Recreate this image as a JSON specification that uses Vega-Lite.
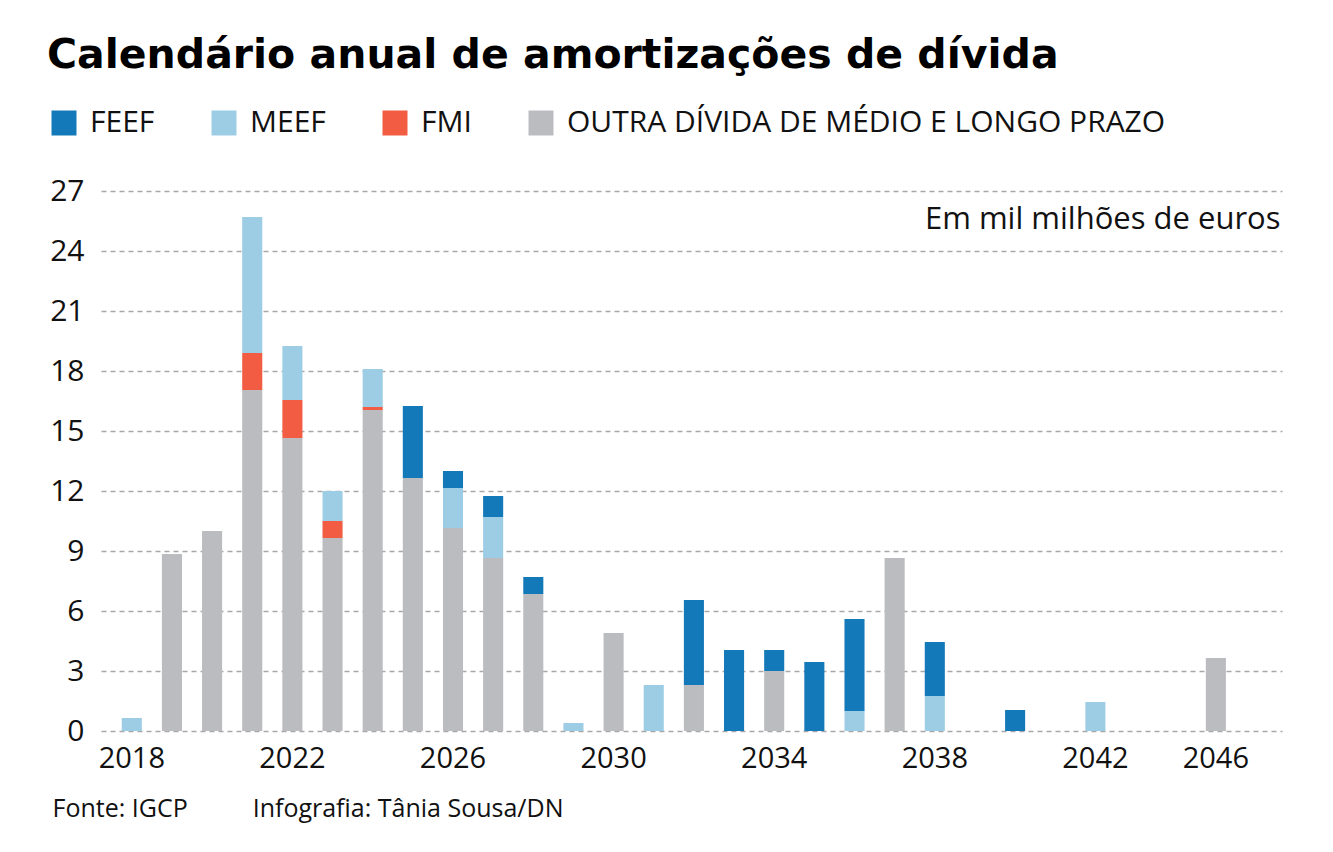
{
  "$schema": "https://vega.github.io/schema/vega-lite/v6.json",
  "width": 1181,
  "height": 540,
  "autosize": {"type": "none"},
  "padding": {"left": 101, "top": 191, "right": 51, "bottom": 121},
  "background": "white",
  "config": {
    "view": {"stroke": null},
    "font": "Open Sans"
  },
  "title": {
    "text": "Calendário anual de amortizações de dívida",
    "anchor": "start",
    "frame": "group",
    "font": "DejaVu Sans",
    "fontSize": 41,
    "fontWeight": "bold",
    "color": "#000000",
    "baseline": "alphabetic",
    "dx": -54,
    "offset": -1
  },
  "data": {
    "values": [
      {"year": 2018, "s": "MEEF", "v": 0.65},
      {"year": 2019, "s": "OUTRA DÍVIDA DE MÉDIO E LONGO PRAZO", "v": 8.85},
      {"year": 2020, "s": "OUTRA DÍVIDA DE MÉDIO E LONGO PRAZO", "v": 10.0},
      {"year": 2021, "s": "OUTRA DÍVIDA DE MÉDIO E LONGO PRAZO", "v": 17.05},
      {"year": 2021, "s": "FMI", "v": 1.85},
      {"year": 2021, "s": "MEEF", "v": 6.8},
      {"year": 2022, "s": "OUTRA DÍVIDA DE MÉDIO E LONGO PRAZO", "v": 14.65},
      {"year": 2022, "s": "FMI", "v": 1.9},
      {"year": 2022, "s": "MEEF", "v": 2.7},
      {"year": 2023, "s": "OUTRA DÍVIDA DE MÉDIO E LONGO PRAZO", "v": 9.65},
      {"year": 2023, "s": "FMI", "v": 0.85},
      {"year": 2023, "s": "MEEF", "v": 1.5},
      {"year": 2024, "s": "OUTRA DÍVIDA DE MÉDIO E LONGO PRAZO", "v": 16.05},
      {"year": 2024, "s": "FMI", "v": 0.15},
      {"year": 2024, "s": "MEEF", "v": 1.9},
      {"year": 2025, "s": "OUTRA DÍVIDA DE MÉDIO E LONGO PRAZO", "v": 12.65},
      {"year": 2025, "s": "FEEF", "v": 3.6},
      {"year": 2026, "s": "OUTRA DÍVIDA DE MÉDIO E LONGO PRAZO", "v": 10.15},
      {"year": 2026, "s": "MEEF", "v": 2.0},
      {"year": 2026, "s": "FEEF", "v": 0.85},
      {"year": 2027, "s": "OUTRA DÍVIDA DE MÉDIO E LONGO PRAZO", "v": 8.65},
      {"year": 2027, "s": "MEEF", "v": 2.05},
      {"year": 2027, "s": "FEEF", "v": 1.05},
      {"year": 2028, "s": "OUTRA DÍVIDA DE MÉDIO E LONGO PRAZO", "v": 6.85},
      {"year": 2028, "s": "FEEF", "v": 0.85},
      {"year": 2029, "s": "MEEF", "v": 0.4},
      {"year": 2030, "s": "OUTRA DÍVIDA DE MÉDIO E LONGO PRAZO", "v": 4.9},
      {"year": 2031, "s": "MEEF", "v": 2.3},
      {"year": 2032, "s": "OUTRA DÍVIDA DE MÉDIO E LONGO PRAZO", "v": 2.3},
      {"year": 2032, "s": "FEEF", "v": 4.25},
      {"year": 2033, "s": "FEEF", "v": 4.05},
      {"year": 2034, "s": "OUTRA DÍVIDA DE MÉDIO E LONGO PRAZO", "v": 3.0},
      {"year": 2034, "s": "FEEF", "v": 1.05},
      {"year": 2035, "s": "FEEF", "v": 3.45},
      {"year": 2036, "s": "MEEF", "v": 1.0},
      {"year": 2036, "s": "FEEF", "v": 4.6},
      {"year": 2037, "s": "OUTRA DÍVIDA DE MÉDIO E LONGO PRAZO", "v": 8.65},
      {"year": 2038, "s": "MEEF", "v": 1.75},
      {"year": 2038, "s": "FEEF", "v": 2.7},
      {"year": 2040, "s": "FEEF", "v": 1.05},
      {"year": 2042, "s": "MEEF", "v": 1.45},
      {"year": 2046, "s": "OUTRA DÍVIDA DE MÉDIO E LONGO PRAZO", "v": 3.65}
    ]
  },
  "transform": [
    {"calculate": "indexof(['OUTRA DÍVIDA DE MÉDIO E LONGO PRAZO','FMI','MEEF','FEEF'], datum.s)", "as": "stackOrder"}
  ],
  "mark": {"type": "bar"},
  "encoding": {
    "x": {
      "field": "year",
      "type": "ordinal",
      "scale": {
        "type": "band",
        "domain": [2018,2019,2020,2021,2022,2023,2024,2025,2026,2027,2028,2029,2030,2031,2032,2033,2034,2035,2036,2037,2038,2039,2040,2041,2042,2043,2044,2046],
        "paddingInner": 0.5,
        "paddingOuter": 0.957,
        "align": 0.27
      },
      "axis": {
        "values": [2018,2022,2026,2030,2034,2038,2042,2046],
        "labelAngle": 0,
        "labelFont": "Open Sans",
        "labelFontSize": 29,
        "labelColor": "#111111",
        "labelPadding": 13,
        "domain": false,
        "ticks": false,
        "grid": false,
        "title": "Fonte: IGCP\u00a0\u00a0\u00a0\u00a0\u00a0\u00a0\u00a0\u00a0\u00a0\u00a0Infografia: Tânia Sousa/DN",
        "titleFont": "Open Sans",
        "titleFontSize": 25,
        "titleFontWeight": "normal",
        "titleColor": "#111111",
        "titleX": -49,
        "titleY": 85,
        "titleAlign": "left",
        "titleBaseline": "alphabetic"
      }
    },
    "y": {
      "field": "v",
      "type": "quantitative",
      "stack": "zero",
      "scale": {"domain": [0, 27], "nice": false},
      "axis": {
        "values": [0,3,6,9,12,15,18,21,24,27],
        "labelFont": "Open Sans",
        "labelFontSize": 30,
        "labelColor": "#111111",
        "labelPadding": 17,
        "domain": false,
        "ticks": false,
        "grid": true,
        "gridColor": "#a8a8a8",
        "gridDash": [5, 4],
        "gridWidth": 1.5,
        "title": "Em mil milhões de euros",
        "titleFont": "Open Sans",
        "titleFontSize": 31,
        "titleFontWeight": "normal",
        "titleColor": "#111111",
        "titleAngle": 0,
        "titleX": 1179,
        "titleY": 37,
        "titleAlign": "right",
        "titleBaseline": "alphabetic"
      }
    },
    "color": {
      "field": "s",
      "type": "nominal",
      "scale": {
        "domain": ["FEEF", "MEEF", "FMI", "OUTRA DÍVIDA DE MÉDIO E LONGO PRAZO"],
        "range": ["#1479b8", "#9ccde5", "#f25c43", "#bbbcc0"]
      },
      "legend": {
        "orient": "none",
        "legendX": -52,
        "legendY": -83,
        "direction": "horizontal",
        "title": null,
        "symbolType": "square",
        "symbolSize": 625,
        "symbolStrokeWidth": 0,
        "symbolOpacity": 1,
        "labelFont": "Open Sans",
        "labelFontSize": 30,
        "labelColor": "#111111",
        "labelOffset": 11,
        "columnPadding": 54,
        "labelLimit": 800
      }
    },
    "order": {"field": "stackOrder", "type": "quantitative", "sort": "ascending"}
  }
}
